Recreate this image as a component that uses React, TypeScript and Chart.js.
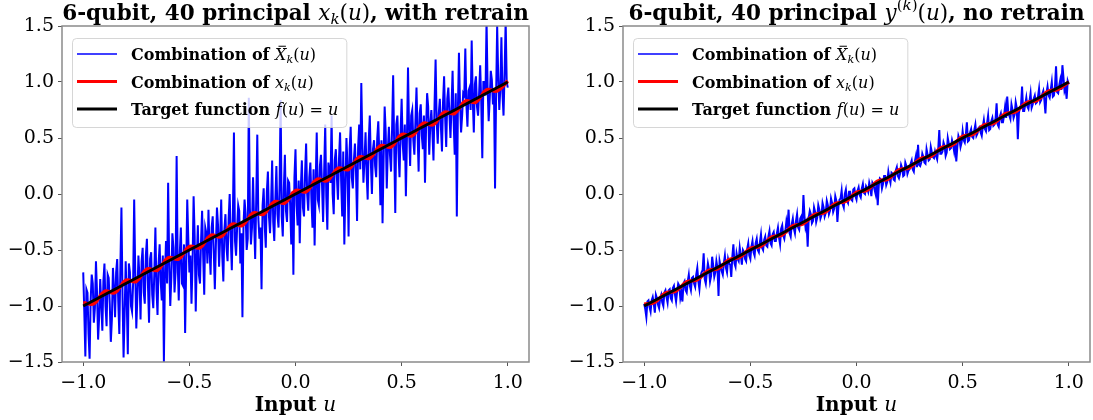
import React, { useEffect, useRef } from 'react';
import { Chart, registerables } from 'chart.js';
Chart.register(...registerables);

const X_TICKS = [-1, -0.5, 0, 0.5, 1];
const Y_TICKS = [-1.5, -1, -0.5, 0, 0.5, 1, 1.5];
const TARGET_U = [-1, 1];
const TARGET_F = [-1, 1];

// Blue series, samples at u = -1.00, -0.99, ... 1.00
const LEFT_BLUE_A = [
  -0.70, -1.45, -0.88, -1.47, -0.72, -1.15, -0.60, -1.30, -0.76, -1.22,
  -0.62, -1.18, -0.75, -1.32, -0.66, -1.10, -0.58, -1.25, -0.12, -1.46,
  -0.60, -1.43, -0.70, -1.05, -0.05, -1.20, -0.55, -1.12, -0.48, -0.98,
  -0.40, -1.15, -0.52, -1.02, -0.30, -1.08, -0.45, -0.95, -1.50, -0.42,
  0.10, -1.00, -0.35, -0.88, 0.34, -0.95, -0.30, -0.82, -1.24, -0.05,
  -0.70, -0.98, -0.02, -1.05, -0.28, -0.80, -0.15, -0.90, -0.35, -0.14,
  -0.72, -0.20, -0.85, -0.12, -0.65, -0.05, -0.78, -0.18, -0.60, 0.00,
  -0.68, 0.55, -0.55, -0.10, -0.62, -1.10, -0.05, -0.50, 0.86, -0.45,
  0.15, -0.58, 0.53, -0.40, -0.85, 0.05, -0.48, 0.20, -0.35, 0.30,
  -0.42, 0.25, -0.30, 0.84, -0.38, 0.35, -0.25, 0.10, -0.45, -0.72,
  0.40, -0.28, -0.44, 0.30, -0.20, 0.45, -0.15, 0.28, -0.30, -0.46,
  0.55, -0.10, 0.35, -0.25, 0.62, -0.32, 0.20, 0.70, -0.18, 0.40,
  -0.05, 0.55, -0.20, -0.45, 0.50, -0.38, 0.60, 0.05, 0.45, -0.24,
  0.62, 0.99, 0.10, 0.55, -0.05, 0.70, 0.00, 0.48, 0.15, 0.65,
  -0.10, -0.26, 0.78, 0.05, 0.60, 0.20, 1.06, -0.17, 0.70, 0.15,
  0.85, 0.30, -0.02, 1.13, 0.25, 0.75, 0.35, 0.95, 0.20, 0.80,
  0.40, 0.10, 0.90, 0.35, 0.75, 0.30, 1.20, 0.45, 0.85, 0.38,
  1.05, 0.42, 0.95, 0.50, 1.10, 0.35, -0.20, 1.26, 0.55, 0.90,
  1.30, 0.60, 0.95, 1.37, 0.55, 1.05, 0.70, 1.15, 0.32, 1.00,
  1.55, 0.65, 1.10, 0.80, 0.05, 1.50, 0.75, 1.40, 0.70, 1.55,
  0.95,
];
// Blue series, samples at u = -0.995, -0.985, ... 0.995
const LEFT_BLUE_B = [
  -1.05, -0.85, -1.25, -0.95, -0.80, -1.02, -0.88, -1.10, -0.98, -0.78,
  -1.00, -0.72, -0.98, -1.12, -0.85, -0.70, -0.96, -0.65, -0.90, -1.08,
  -0.95, -0.62, -1.00, -0.80, -0.68, -0.92, -0.75, -0.60, -0.88, -0.55,
  -0.82, -0.58, -0.90, -0.70, -0.85, -0.62, -0.78, -0.55, -0.72, -0.80,
  -0.60, -0.75, -0.48, -0.70, -0.62, -0.52, -0.80, -0.45, -0.66, -0.40,
  -0.55, -0.62, -0.38, -0.58, -0.72, -0.42, -0.55, -0.30, -0.62, -0.50,
  -0.30, -0.52, -0.45, -0.28, -0.40, -0.55, -0.32, -0.48, -0.22, -0.40,
  -0.20, -0.42, -0.30, -0.15, -0.35, -0.28, -0.18, -0.40, -0.12, -0.30,
  -0.25, -0.05, -0.22, -0.30, -0.10, -0.28, 0.02, -0.20, -0.08, -0.25,
  -0.05, -0.18, 0.08, -0.20, 0.05, -0.15, 0.12, -0.10, 0.02, 0.15,
  -0.10, 0.12, 0.05, -0.12, 0.18, 0.00, 0.15, -0.05, 0.22, 0.10,
  -0.05, 0.25, 0.08, 0.20, -0.02, 0.28, 0.10, 0.00, 0.30, 0.15,
  0.32, 0.12, 0.38, 0.05, 0.25, 0.40, 0.15, 0.30, 0.20, 0.42,
  0.22, 0.45, 0.30, 0.18, 0.48, 0.28, 0.40, 0.25, 0.50, 0.35,
  0.48, 0.30, 0.55, 0.40, 0.35, 0.58, 0.42, 0.62, 0.38, 0.55,
  0.45, 0.62, 0.50, 0.58, 0.70, 0.48, 0.65, 0.55, 0.72, 0.52,
  0.70, 0.58, 0.78, 0.62, 0.55, 0.80, 0.65, 0.72, 0.60, 0.82,
  0.68, 0.85, 0.72, 0.78, 0.65, 0.90, 0.75, 0.82, 0.70, 0.88,
  0.80, 0.92, 0.75, 0.85, 0.98, 0.78, 0.90, 0.82, 1.00, 0.88,
  0.95, 0.85, 1.02, 0.92, 0.88, 1.05, 0.95, 0.90, 1.08, 1.00,
];

const LEFT_RED = [
  -0.97, -0.98, -0.87, -0.88, -0.77, -0.78, -0.67, -0.68, -0.57, -0.58,
  -0.47, -0.48, -0.37, -0.38, -0.27, -0.28, -0.17, -0.18, -0.07, -0.08,
  0.03, 0.02, 0.13, 0.12, 0.23, 0.22, 0.33, 0.32, 0.43, 0.42,
  0.53, 0.52, 0.63, 0.62, 0.73, 0.72, 0.83, 0.82, 0.93, 0.92,
  1.01,
];

const RIGHT_BLUE_A = [
  -0.98, -1.10, -0.95, -1.05, -0.92, -1.06, -0.93, -1.02, -0.90, -1.00,
  -0.86, -0.97, -0.85, -0.95, -0.82, -0.96, -0.80, -0.93, -0.96, -0.78,
  -0.88, -0.72, -0.86, -0.74, -0.83, -0.66, -0.85, -0.70, -0.53, -0.80,
  -0.62, -0.78, -0.56, -0.74, -0.60, -0.91, -0.65, -0.72, -0.55, -0.70,
  -0.62, -0.74, -0.45, -0.65, -0.58, -0.48, -0.63, -0.52, -0.60, -0.44,
  -0.58, -0.42, -0.55, -0.40, -0.52, -0.36, -0.50, -0.38, -0.47, -0.33,
  -0.46, -0.34, -0.42, -0.30, -0.45, -0.28, -0.40, -0.24, -0.14, -0.38,
  -0.22, -0.35, -0.18, -0.32, -0.20, -0.01, -0.30, -0.47, -0.15, -0.26,
  -0.12, -0.25, -0.10, -0.22, -0.08, -0.20, -0.06, -0.18, -0.04, -0.16,
  -0.02, -0.25, -0.05, 0.03, -0.12, 0.04, -0.08, 0.02, -0.06, 0.05,
  -0.05, 0.06, -0.03, 0.09, 0.00, 0.05, 0.10, -0.02, 0.08, 0.00,
  -0.10, 0.14, 0.05, 0.16, 0.08, 0.20, 0.10, 0.18, 0.12, 0.24,
  0.14, 0.26, 0.16, 0.28, 0.18, 0.22, 0.30, 0.20, 0.34, 0.44,
  0.25, 0.36, 0.28, 0.40, 0.30, 0.42, 0.33, 0.38, 0.31, 0.57,
  0.36, 0.46, 0.34, 0.50, 0.40, 0.48, 0.38, 0.29, 0.52, 0.42,
  0.56, 0.46, 0.64, 0.48, 0.58, 0.50, 0.62, 0.54, 0.60, 0.52,
  0.66, 0.56, 0.70, 0.58, 0.68, 0.62, 0.81, 0.60, 0.72, 0.64,
  0.78, 0.87, 0.70, 0.80, 0.68, 0.82, 0.49, 0.78, 0.96, 0.74,
  0.86, 0.76, 0.90, 0.80, 0.88, 0.82, 0.94, 0.84, 0.92, 0.72,
  0.96, 0.86, 1.00, 0.88, 1.14, 0.90, 1.02, 1.15, 0.92, 0.85,
  0.98,
];
const RIGHT_BLUE_B = [
  -1.03, -0.96, -1.01, -0.95, -0.98, -0.90, -0.99, -0.93, -0.97, -0.88,
  -0.92, -0.86, -0.93, -0.84, -0.90, -0.87, -0.82, -0.88, -0.80, -0.86,
  -0.78, -0.82, -0.75, -0.80, -0.72, -0.78, -0.74, -0.68, -0.76, -0.70,
  -0.67, -0.73, -0.64, -0.70, -0.66, -0.60, -0.69, -0.62, -0.66, -0.58,
  -0.63, -0.56, -0.62, -0.53, -0.60, -0.55, -0.50, -0.58, -0.49, -0.55,
  -0.47, -0.52, -0.44, -0.50, -0.43, -0.48, -0.41, -0.46, -0.38, -0.44,
  -0.36, -0.42, -0.35, -0.39, -0.31, -0.37, -0.33, -0.29, -0.35, -0.27,
  -0.31, -0.24, -0.30, -0.22, -0.27, -0.20, -0.26, -0.21, -0.18, -0.24,
  -0.16, -0.21, -0.14, -0.19, -0.12, -0.17, -0.10, -0.15, -0.08, -0.13,
  -0.06, -0.11, -0.04, -0.09, 0.00, -0.06, 0.02, -0.05, 0.04, -0.02,
  0.03, -0.01, 0.05, 0.01, 0.07, 0.02, 0.06, 0.10, 0.04, 0.12,
  0.08, 0.13, 0.09, 0.16, 0.11, 0.14, 0.19, 0.13, 0.21, 0.16,
  0.18, 0.23, 0.17, 0.25, 0.21, 0.27, 0.22, 0.29, 0.24, 0.26,
  0.28, 0.33, 0.27, 0.35, 0.31, 0.37, 0.32, 0.34, 0.40, 0.36,
  0.38, 0.43, 0.37, 0.45, 0.41, 0.44, 0.47, 0.42, 0.49, 0.46,
  0.48, 0.53, 0.47, 0.55, 0.51, 0.57, 0.52, 0.59, 0.55, 0.60,
  0.58, 0.63, 0.57, 0.65, 0.61, 0.67, 0.62, 0.69, 0.64, 0.70,
  0.68, 0.73, 0.67, 0.75, 0.71, 0.77, 0.72, 0.79, 0.74, 0.80,
  0.78, 0.83, 0.77, 0.85, 0.81, 0.87, 0.82, 0.89, 0.84, 0.90,
  0.88, 0.93, 0.87, 0.96, 0.91, 0.97, 0.93, 1.04, 0.95, 1.01,
];

const RIGHT_RED = [
  -0.985, -0.965, -0.885, -0.865, -0.785, -0.765, -0.685, -0.665, -0.585, -0.565,
  -0.485, -0.465, -0.385, -0.365, -0.285, -0.265, -0.185, -0.165, -0.085, -0.065,
  0.015, 0.035, 0.115, 0.135, 0.215, 0.235, 0.315, 0.335, 0.415, 0.435,
  0.515, 0.535, 0.615, 0.635, 0.715, 0.735, 0.815, 0.835, 0.915, 0.935,
  1.0,
];

const SERIES_COLORS = ['#0000ff', '#ff0000', '#000000'];

type Seg = { t: string; f: 'b' | 'i' | 'r'; sz?: number; dy?: number; bar?: boolean };

const FAMILY = '"DejaVu Serif"';
function fontOf(f: string, size: number) {
  if (f === 'b') return `bold ${size}px ${FAMILY}`;
  if (f === 'i') return `italic ${size}px ${FAMILY}`;
  return `${size}px ${FAMILY}`;
}

function richWidth(ctx: CanvasRenderingContext2D, segs: Seg[], size: number) {
  let w = 0;
  for (const s of segs) {
    ctx.font = fontOf(s.f, size * (s.sz || 1));
    w += ctx.measureText(s.t).width;
  }
  return w;
}

function drawRich(ctx: CanvasRenderingContext2D, segs: Seg[], x: number, y: number, size: number, align: 'left' | 'center') {
  const total = richWidth(ctx, segs, size);
  let cx = align === 'center' ? x - total / 2 : x;
  ctx.textAlign = 'left';
  ctx.textBaseline = 'alphabetic';
  for (const s of segs) {
    const fs = size * (s.sz || 1);
    ctx.font = fontOf(s.f, fs);
    const w = ctx.measureText(s.t).width;
    const yy = y + (s.dy || 0) * size;
    ctx.fillText(s.t, cx, yy);
    if (s.bar) {
      ctx.save();
      ctx.lineWidth = 1;
      ctx.strokeStyle = ctx.fillStyle as string;
      ctx.beginPath();
      ctx.moveTo(cx + w * 0.3, yy - fs * 0.86);
      ctx.lineTo(cx + w * 0.95, yy - fs * 0.86);
      ctx.stroke();
      ctx.restore();
    }
    cx += w;
  }
}

const SUB_K: Seg = { t: 'k', f: 'i', sz: 0.7, dy: 0.2 };
const PAREN_U: Seg[] = [{ t: '(', f: 'r' }, { t: 'u', f: 'i' }, { t: ')', f: 'r' }];

const LEGEND_ROWS: Seg[][] = [
  [{ t: 'Combination of ', f: 'b' }, { t: 'X', f: 'i', bar: true }, SUB_K, ...PAREN_U],
  [{ t: 'Combination of ', f: 'b' }, { t: 'x', f: 'i' }, SUB_K, ...PAREN_U],
  [{ t: 'Target function ', f: 'b' }, { t: 'f', f: 'i' }, ...PAREN_U, { t: ' = ', f: 'r' }, { t: 'u', f: 'i' }],
];
const LEGEND_WIDTHS = [1.5, 3, 3];

const TITLE_LEFT: Seg[] = [
  { t: '6-qubit, 40 principal ', f: 'b' }, { t: 'x', f: 'i' }, SUB_K, ...PAREN_U, { t: ', with retrain', f: 'b' },
];
const TITLE_RIGHT: Seg[] = [
  { t: '6-qubit, 40 principal ', f: 'b' }, { t: 'y', f: 'i' },
  { t: '(', f: 'r', sz: 0.7, dy: -0.45 }, { t: 'k', f: 'i', sz: 0.7, dy: -0.45 }, { t: ')', f: 'r', sz: 0.7, dy: -0.45 },
  ...PAREN_U, { t: ', no retrain', f: 'b' },
];
const X_LABEL: Seg[] = [{ t: 'Input ', f: 'b' }, { t: 'u', f: 'i' }];

function grid(n: number) {
  return Array.from({ length: n }, (_, i) => -1 + (2 * i) / (n - 1));
}
function merge(a: number[], b: number[]) {
  const out: number[] = [];
  a.forEach((v, i) => {
    out.push(v);
    if (i < b.length) out.push(b[i]);
  });
  return out;
}
function toPts(ys: number[], xs?: number[]) {
  const g = xs || grid(ys.length);
  return ys.map((y, i) => ({ x: g[i], y }));
}
function fmt(v: number) {
  const s = Math.abs(v).toFixed(1);
  return v < -1e-9 ? '\u2212' + s : s;
}

type Panel = {
  title: Seg[];
  blue: number[];
  red: number[];
  left: number;
  width: number;
  yWidth: number;
  rightPad: number;
};

const PANELS: Panel[] = [
  { title: TITLE_LEFT, blue: merge(LEFT_BLUE_A, LEFT_BLUE_B), red: LEFT_RED, left: 0, width: 546, yWidth: 62, rightPad: 17 },
  { title: TITLE_RIGHT, blue: merge(RIGHT_BLUE_A, RIGHT_BLUE_B), red: RIGHT_RED, left: 546, width: 547, yWidth: 77, rightPad: 3 },
];

function PanelChart({ p }: { p: Panel }) {
  const ref = useRef<HTMLCanvasElement>(null);
  useEffect(() => {
    if (!ref.current) return;
    const decor = {
      id: 'decor',
      afterDatasetsDraw(chart: any) {
        const ctx: CanvasRenderingContext2D = chart.ctx;
        const a = chart.chartArea;
        ctx.save();
        ctx.strokeStyle = '#8a8a8a';
        ctx.lineWidth = 1.5;
        ctx.strokeRect(a.left, a.top, a.right - a.left, a.bottom - a.top);

        const size = 16;
        const bx = a.left + 10;
        const by = a.top + 12;
        let maxW = 0;
        for (const r of LEGEND_ROWS) maxW = Math.max(maxW, richWidth(ctx, r, size));
        const bw = 59 + maxW + 8;
        const bh = 89;
        ctx.beginPath();
        (ctx as any).roundRect(bx + 0.5, by + 0.5, bw, bh, 4);
        ctx.fillStyle = 'rgba(255,255,255,0.8)';
        ctx.fill();
        ctx.strokeStyle = 'rgba(204,204,204,0.8)';
        ctx.lineWidth = 1;
        ctx.stroke();
        LEGEND_ROWS.forEach((r, i) => {
          const ly = by + 16 + i * 27.5;
          ctx.strokeStyle = SERIES_COLORS[i];
          ctx.lineWidth = LEGEND_WIDTHS[i];
          ctx.beginPath();
          ctx.moveTo(bx + 5, ly);
          ctx.lineTo(bx + 45, ly);
          ctx.stroke();
          ctx.fillStyle = '#000';
          drawRich(ctx, r, bx + 59, ly + 6, size, 'left');
        });

        ctx.fillStyle = '#000';
        const cx = (a.left + a.right) / 2;
        drawRich(ctx, p.title, cx, 20, 21.5, 'center');
        drawRich(ctx, X_LABEL, cx, 411, 20, 'center');
        ctx.restore();
      },
    };
    const chart = new Chart(ref.current, {
      type: 'line',
      data: {
        datasets: [
          { data: toPts(p.blue), borderColor: SERIES_COLORS[0], borderWidth: 2, pointRadius: 0, tension: 0, order: 3 },
          { data: toPts(p.red), borderColor: SERIES_COLORS[1], borderWidth: 3.5, pointRadius: 0, tension: 0.4, order: 2 },
          { data: toPts(TARGET_F, TARGET_U), borderColor: SERIES_COLORS[2], borderWidth: 3, pointRadius: 0, tension: 0, order: 1 },
        ],
      },
      options: {
        animation: false,
        responsive: false,
        devicePixelRatio: 1,
        events: [],
        layout: { padding: { left: 0, right: p.rightPad, top: 26, bottom: 0 } },
        plugins: { legend: { display: false }, tooltip: { enabled: false }, title: { display: false } },
        scales: {
          x: {
            type: 'linear',
            min: -1.1,
            max: 1.1,
            afterBuildTicks: (s: any) => { s.ticks = X_TICKS.map((v) => ({ value: v })); },
            afterFit: (s: any) => { s.height = 58; },
            grid: { drawOnChartArea: false, drawTicks: true, tickLength: 4, tickColor: '#555', tickWidth: 1 },
            border: { display: false },
            ticks: { color: '#000', padding: 6, maxRotation: 0, autoSkip: false, font: { family: 'DejaVu Serif', size: 19 }, callback: (v: any) => fmt(Number(v)) },
          },
          y: {
            type: 'linear',
            min: -1.5,
            max: 1.5,
            afterBuildTicks: (s: any) => { s.ticks = Y_TICKS.map((v) => ({ value: v })); },
            afterFit: (s: any) => { s.width = p.yWidth; },
            grid: { drawOnChartArea: false, drawTicks: true, tickLength: 4, tickColor: '#555', tickWidth: 1 },
            border: { display: false },
            ticks: { color: '#000', padding: 4, autoSkip: false, font: { family: 'DejaVu Serif', size: 19 }, callback: (v: any) => fmt(Number(v)) },
          },
        },
      },
      plugins: [decor],
    } as any);
    return () => chart.destroy();
  }, [p]);
  return (
    <canvas
      ref={ref}
      width={p.width}
      height={420}
      style={{ position: 'absolute', left: p.left, top: 0, width: p.width, height: 420 }}
    />
  );
}

export default function App() {
  return (
    <div style={{ position: 'absolute', left: 0, top: 0, width: 1093, height: 420, background: '#fff', overflow: 'hidden' }}>
      {PANELS.map((p, i) => (
        <PanelChart key={i} p={p} />
      ))}
    </div>
  );
}
